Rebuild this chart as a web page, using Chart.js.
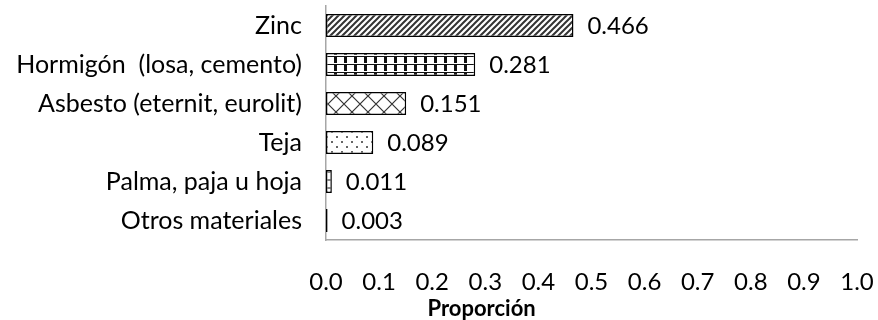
<!DOCTYPE html>
<html>
<head>
<meta charset="utf-8">
<script src="https://cdn.jsdelivr.net/npm/chart.js@4"></script>
<style>
  html, body { margin: 0; padding: 0; background: #fff; }
  #wrap { width: 878px; height: 320px; }
</style>
</head>
<body>
<div id="wrap"><canvas id="roofChart" width="878" height="320"></canvas></div>
<script>
// material categories and their proportions
const materials = ['Zinc', 'Hormigón  (losa, cemento)', 'Asbesto (eternit, eurolit)', 'Teja', 'Palma, paja u hoja', 'Otros materiales']
const proportions = [0.466, 0.281, 0.151, 0.089, 0.011, 0.003]
const axisTitle = 'Proporción'
const FONT = 'Lato, "Liberation Sans", sans-serif'

function makePattern(w, h, draw) {
	const c = document.createElement('canvas')
	c.width = w
	c.height = h
	const g = c.getContext('2d')
	g.fillStyle = '#fff'
	g.fillRect(0, 0, w, h)
	g.strokeStyle = '#333'
	g.fillStyle = '#333'
	draw(g)
	return document.getElementById('roofChart').getContext('2d').createPattern(c, 'repeat')
}

const hatch = makePattern(6, 6, g => {
	g.lineWidth = 2
	g.beginPath()
	g.moveTo(0, 6); g.lineTo(6, 0)
	g.moveTo(-3, 3); g.lineTo(3, -3)
	g.moveTo(3, 9); g.lineTo(9, 3)
	g.stroke()
})
const blocks = makePattern(10, 8, g => {
	g.fillStyle = '#111'
	g.fillRect(4, 1, 3, 6)
	g.fillRect(0, 0, 10, 1)
})
const lattice = makePattern(16, 16, g => {
	g.lineWidth = 1.2
	g.beginPath()
	g.moveTo(0, 0); g.lineTo(16, 16)
	g.moveTo(16, 0); g.lineTo(0, 16)
	g.stroke()
})
const dots = makePattern(10, 10, g => {
	g.beginPath(); g.arc(2, 2, 1, 0, Math.PI * 2); g.fill()
	g.beginPath(); g.arc(7, 7, 1, 0, Math.PI * 2); g.fill()
})
const stripes = makePattern(4, 8, g => {
	g.fillStyle = '#888'
	g.fillRect(0, 3, 4, 2)
})

const valueLabels = {
	id: 'valueLabels',
	afterDatasetsDraw(chart) {
		const ctx = chart.ctx
		const meta = chart.getDatasetMeta(0)
		ctx.save()
		ctx.font = '24px ' + FONT
		ctx.fillStyle = '#000'
		ctx.textBaseline = 'middle'
		ctx.textAlign = 'left'
		meta.data.forEach((bar, i) => {
			ctx.fillText(proportions[i].toFixed(3), bar.x + 14, bar.y + 1)
		})
		ctx.restore()
	}
}

const xTitle = {
	id: 'xTitle',
	afterDraw(chart) {
		const ctx = chart.ctx
		const x = chart.scales.x
		ctx.save()
		ctx.font = 'bold 22px ' + FONT
		ctx.fillStyle = '#000'
		ctx.textAlign = 'center'
		ctx.textBaseline = 'middle'
		ctx.fillText(axisTitle, x.getPixelForValue(0.293), 309)
		ctx.restore()
	}
}

const roofChart = new Chart(document.getElementById('roofChart'), {
	type: 'bar',
	data: {
		labels: materials,
		datasets: [{
			data: proportions,
			backgroundColor: [hatch, blocks, lattice, dots, stripes, '#000'],
			borderColor: '#000',
			borderWidth: 1.5,
			borderSkipped: false,
			categoryPercentage: 1,
			barPercentage: 0.59,
		}],
	},
	options: {
		indexAxis: 'y',
		responsive: false,
		animation: false,
		layout: { padding: { top: 6, right: 21, bottom: 0, left: 0 } },
		plugins: {
			legend: { display: false },
			tooltip: { enabled: false },
		},
		scales: {
			x: {
				min: 0,
				max: 1,
				grid: { display: false, drawTicks: false },
				border: { display: true, color: '#a6a6a6', width: 1.5 },
				ticks: {
					stepSize: 0.1,
					padding: 28,
					color: '#000',
					font: { family: FONT, size: 24 },
					maxRotation: 0,
					autoSkip: false,
					callback: v => v.toFixed(1),
				},
				afterFit(scale) {
					scale.height = 80
					scale.paddingLeft = 0
					scale.paddingRight = 0
				},
			},
			y: {
				grid: { display: false, drawTicks: false },
				border: { display: true, color: '#a6a6a6', width: 1.5 },
				ticks: {
					padding: 24,
					color: '#000',
					font: { family: FONT, size: 25 },
				},
				afterFit(scale) {
					scale.width = 326
					scale.paddingTop = 0
					scale.paddingBottom = 0
				},
			},
		},
	},
	plugins: [valueLabels, xTitle],
})
</script>
</body>
</html>
